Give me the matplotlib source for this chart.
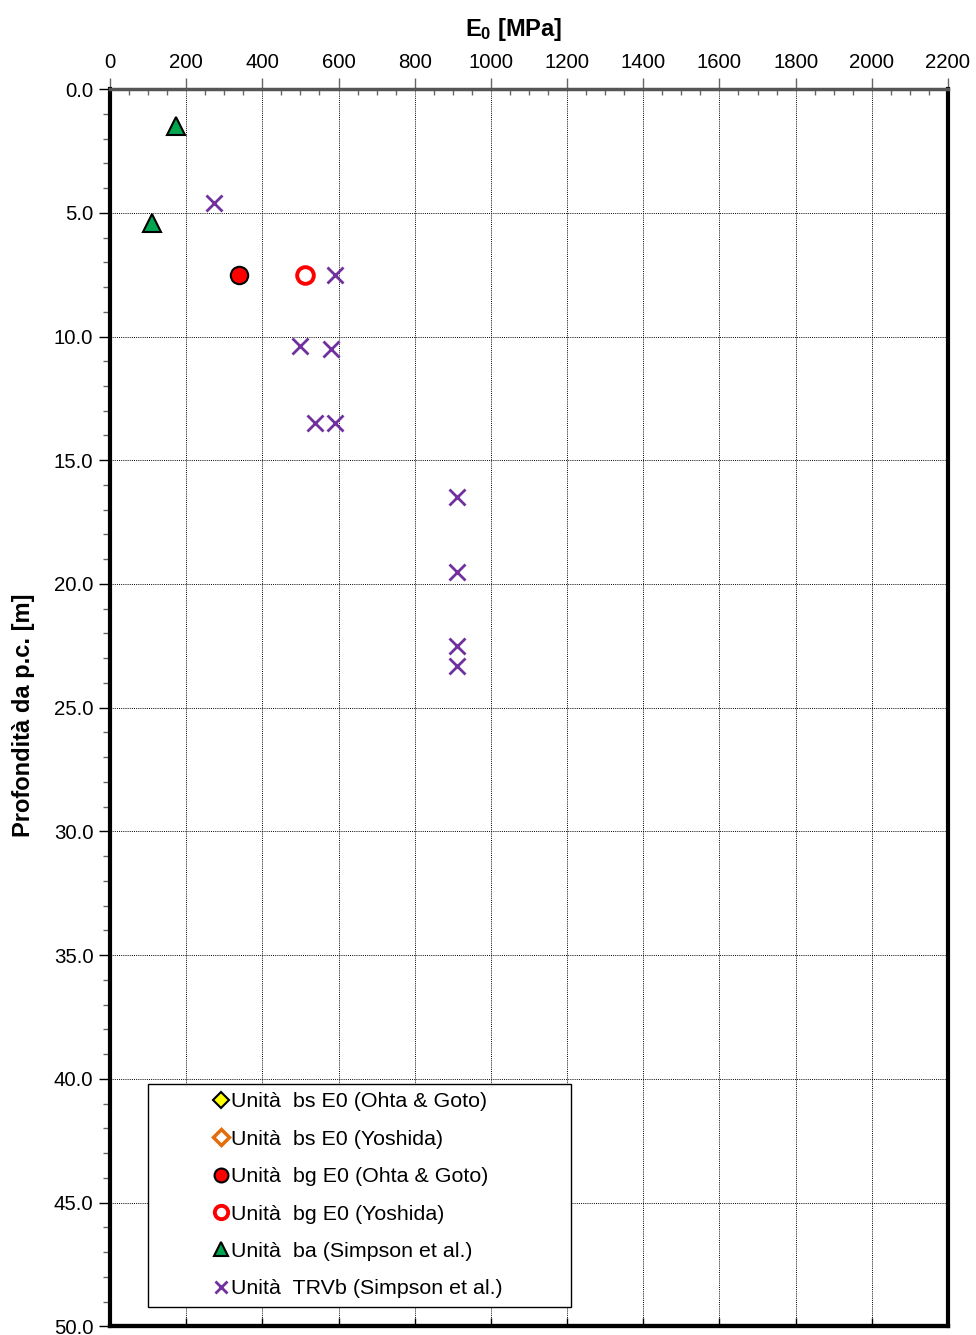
import matplotlib
matplotlib.use('Agg')
import matplotlib.pyplot as plt
from matplotlib.ticker import MultipleLocator, FormatStrFormatter

plt.rcParams['font.family'] = ['Liberation Sans', 'DejaVu Sans']
plt.rcParams['mathtext.fontset'] = 'custom'
plt.rcParams['mathtext.rm'] = 'Liberation Sans'
plt.rcParams['mathtext.bf'] = 'Liberation Sans:bold'

# E0 [MPa] vs depth [m] for each unit / method
bs_ohta_E = []
bs_ohta_z = []
bs_yosh_E = []
bs_yosh_z = []
bg_ohta_E = [339]
bg_ohta_z = [7.5]
bg_yosh_E = [512]
bg_yosh_z = [7.5]
ba_simp_E = [172, 110]
ba_simp_z = [1.5, 5.4]
trvb_simp_E = [273, 592, 500, 581, 537, 592, 911, 911, 911, 911]
trvb_simp_z = [4.6, 7.5, 10.4, 10.5, 13.5, 13.5, 16.5, 19.5, 22.5, 23.3]

labels = [
    'Unità  bs E0 (Ohta & Goto)',
    'Unità  bs E0 (Yoshida)',
    'Unità  bg E0 (Ohta & Goto)',
    'Unità  bg E0 (Yoshida)',
    'Unità  ba (Simpson et al.)',
    'Unità  TRVb (Simpson et al.)',
]

fig = plt.figure(figsize=(9.76, 13.35), dpi=100)
ax = fig.add_axes([0.1127, 0.0065, 0.8586, 0.9268])

ax.plot(bs_ohta_E, bs_ohta_z, 'D', ls='none', ms=10, mfc='#FFFF00', mec='black', mew=1.5, label=labels[0])
ax.plot(bs_yosh_E, bs_yosh_z, 'D', ls='none', ms=10, mfc='white', mec='#E46C0A', mew=2.5, label=labels[1])
ax.plot(bg_ohta_E, bg_ohta_z, 'o', ls='none', ms=12.5, mfc='#FF0000', mec='black', mew=1.5, label=labels[2])
ax.plot(bg_yosh_E, bg_yosh_z, 'o', ls='none', ms=12, mfc='white', mec='#FF0000', mew=2.8, label=labels[3])
ax.plot(ba_simp_E, ba_simp_z, '^', ls='none', ms=13, mfc='#00A550', mec='black', mew=1.5, label=labels[4])
ax.plot(trvb_simp_E, trvb_simp_z, 'x', ls='none', ms=11.5, mec='#7030A0', mew=2.0, label=labels[5])

ax.set_xlim(0, 2200)
ax.set_ylim(50, 0)
ax.xaxis.set_major_locator(MultipleLocator(200))
ax.xaxis.set_minor_locator(MultipleLocator(50))
ax.yaxis.set_major_locator(MultipleLocator(5))
ax.yaxis.set_minor_locator(MultipleLocator(1))
ax.yaxis.set_major_formatter(FormatStrFormatter('%.1f'))

ax.xaxis.tick_top()
ax.xaxis.set_label_position('top')
ax.tick_params(axis='x', which='major', direction='out', length=8, width=1, color='#666666',
               labelsize=14.7, pad=4)
ax.tick_params(axis='x', which='minor', direction='in', length=4, width=1, color='#666666')
ax.tick_params(axis='y', which='major', direction='out', length=8, width=1, labelsize=14.7, pad=4)
ax.tick_params(axis='y', which='minor', direction='out', length=5, width=1, color='#666666')

# bottom ticks without labels
sec = ax.secondary_xaxis('bottom')
sec.xaxis.set_major_locator(MultipleLocator(200))
sec.tick_params(axis='x', direction='in', length=6, width=1, labelbottom=False)
sec.spines['bottom'].set_linewidth(3)

ax.grid(True, which='major', color='black', linestyle=(0, (1, 1.2)), linewidth=0.7)

for side in ['left', 'right', 'bottom']:
    ax.spines[side].set_linewidth(3)
    ax.spines[side].set_color('black')
ax.spines['top'].set_linewidth(2.5)
ax.spines['top'].set_color('#555555')

ax.set_xlabel(r'$\mathbf{E_0}$ [MPa]', fontsize=17, fontweight='bold')
ax.xaxis.set_label_coords(0.482, 1.043)
ax.set_ylabel('Profondità da p.c. [m]', fontsize=17, fontweight='bold')
ax.yaxis.set_label_coords(-0.089, 0.494)

leg = ax.legend(loc='upper left', bbox_to_anchor=(0.0453, 0.196, 0.505, 0.0), mode='expand',
                fontsize=15.4, frameon=True, fancybox=False, framealpha=1, edgecolor='black',
                borderpad=0.4, handlelength=6.0, handletextpad=-2.5, labelspacing=0.86,
                markerscale=0.8, numpoints=1, borderaxespad=0)
leg.get_frame().set_linewidth(1.0)

fig.savefig('out.png', dpi=100)
